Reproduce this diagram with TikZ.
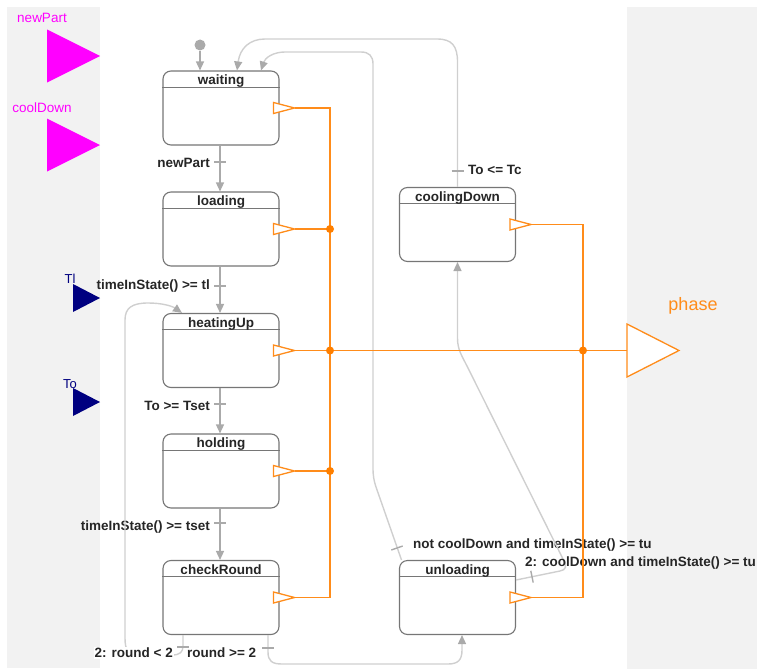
\documentclass[tikz,border=0pt]{standalone}
\usepackage{fontspec}
\setmainfont{Liberation Sans}
\usetikzlibrary{arrows.meta,calc}

\definecolor{panel}{HTML}{F2F2F2}
\definecolor{boxline}{HTML}{767676}
\definecolor{trans}{HTML}{AAAAAA}
\definecolor{loop}{HTML}{CFCFCF}
\definecolor{busor}{HTML}{FF8C1A}
\definecolor{dotor}{HTML}{FF7F00}
\definecolor{magin}{HTML}{FF00FF}
\definecolor{navyin}{HTML}{000080}

\tikzset{
  statebox/.style={draw=boxline, line width=1.1pt, rounded corners=8pt,
    minimum width=116pt, minimum height=74pt, inner sep=0pt, fill=white},
  headline/.style={draw=boxline, line width=1pt},
  title/.style={font=\fontsize{13.5}{15}\selectfont\bfseries, text=black!85, inner sep=0pt, anchor=base},
  tlabel/.style={font=\fontsize{13.5}{15}\selectfont\bfseries, text=black!85, inner sep=0pt},
  tline/.style={draw=trans, line width=1.4pt},
  lline/.style={draw=loop, line width=1.4pt},
  arr/.style={-{Triangle[length=9pt,width=8pt,color=trans]}},
  tickline/.style={draw=trans, line width=1.4pt},
  initdot/.style={circle, fill=trans, minimum size=11pt, inner sep=0pt},
  bus/.style={draw=busor, line width=1.4pt},
  portline/.style={draw=busor, line width=1.3pt, fill=white, line join=miter},
  busdot/.style={circle, fill=dotor, minimum size=8pt, inner sep=0pt},
  inlabel/.style={font=\fontsize{13.5}{15}\selectfont, inner sep=0pt},
}

% a state: rounded box, header rule and bold title
\newcommand\mkstate[3]{%
  \node[statebox] (#1) at (#2) {};
  \draw[headline] ([yshift=-17pt]#1.north west) -- ([yshift=-17pt]#1.north east);
  \node[title] (#1T) at ([yshift=-14.5pt]#1.north) {#3};
  % output port on the right edge, its tip named #1P
  \draw[portline] ([xshift=-6pt,yshift=5.5pt]#1.east)
     -- ([xshift=15pt]#1.east) coordinate (#1P)
     -- ([xshift=-6pt,yshift=-5.5pt]#1.east) -- cycle;
}

\begin{document}
\begin{tikzpicture}[x=1pt,y=-1pt]
\useasboundingbox (0,0) rectangle (757,669);

% side panels
\fill[panel] (7,7) rectangle (100,668);
\fill[panel] (627,7) rectangle (757,669);

% inputs
\node[inlabel, text=magin] (newPartL) at (42,18) {newPart};
\fill[magin] (47,29.5) -- (100,56) -- (47,82.5) -- cycle;
\node[inlabel, text=magin] (coolDownL) at (42,108) {coolDown};
\fill[magin] (47,118.5) -- (100,145) -- (47,171.5) -- cycle;
\fill[navyin] (73,284) -- (100,298) -- (73,312) -- cycle;
\node[inlabel, font=\fontsize{13}{14}\selectfont, text=navyin] (TlL) at (70,279) {Tl};
\fill[navyin] (73,388) -- (100,402) -- (73,416) -- cycle;
\node[inlabel, font=\fontsize{13}{14}\selectfont, text=navyin] (ToL) at (70,384) {To};

% output
\coordinate (phaseIn) at (627,350.5);
\draw[portline] (phaseIn) -- ++(0,-26.5) -- (679,350.5) -- (627,377) -- cycle;
\node[inlabel, font=\fontsize{18}{20}\selectfont, text=busor] (phaseL) at (693,306) {phase};

% states
\mkstate{waiting}{221,108}{waiting}
\mkstate{loading}{221,229}{loading}
\mkstate{heatingUp}{221,350.5}{heatingUp}
\mkstate{holding}{221,471}{holding}
\mkstate{checkRound}{221,597.5}{checkRound}
\mkstate{coolingDown}{457.5,224.5}{coolingDown}
\mkstate{unloading}{457.5,597.5}{unloading}

% initial transition
\node[initdot] (init) at (200,45) {};
\draw[tline, arr] (init) -- (init |- waiting.north);

% main chain
\coordinate (cx) at (220,0);
\draw[tline, arr] (waiting.south -| cx) -- (loading.north -| cx);
\draw[tickline] (214,162) -- (226,162);
\node[tlabel, anchor=east] (l1) at (210,163) {newPart};

\draw[tline, arr] (loading.south -| cx) -- (heatingUp.north -| cx);
\draw[tickline] (214,286) -- (226,286);
\node[tlabel, anchor=east] (l2) at (210,286) {timeInState() >= tl};

\draw[tline, arr] (heatingUp.south -| cx) -- (holding.north -| cx);
\draw[tickline] (214,404) -- (226,404);
\node[tlabel, anchor=east] (l3) at (210,406) {To >= Tset};

\draw[tline, arr] (holding.south -| cx) -- (checkRound.north -| cx);
\draw[tickline] (214,523) -- (226,523);
\node[tlabel, anchor=east] (l4) at (210,527) {timeInState() >= tset};

% checkRound back to heatingUp
\draw[lline, arr] ([xshift=-38pt]checkRound.south) -- (183,646)
  .. controls (183,652) and (180,655) .. (172,655) -- (140,655)
  .. controls (128,655) and (125,650) .. (125,638) -- (125,320)
  .. controls (125,308) and (132,303) .. (148,303)
  .. controls (162,303) and (172,306) .. ([xshift=-39pt]heatingUp.north);
\draw[tickline] (177,647) -- (189,647);
\node[tlabel, anchor=east, fill=white, inner sep=1pt] (l5) at (174,653) {2: round < 2};

% checkRound to unloading
\draw[lline, arr] ([xshift=47pt]checkRound.south) -- (268,652)
  .. controls (268,661) and (272,664) .. (282,664) -- (448,664)
  .. controls (458,664) and (462,660) .. (462,650) -- ([xshift=4.5pt]unloading.south);
\draw[tickline] (262,648) -- (274,648);
\node[tlabel, anchor=west] (l6) at (187,653) {round >= 2};

% coolingDown back to waiting
\draw[lline, arr] (coolingDown.north) -- (457.5,62)
  .. controls (457.5,46) and (452,39) .. (437,39) -- (265,39)
  .. controls (250,39) and (240,48) .. ([xshift=16pt]waiting.north);
\draw[tickline] (451.5,171) -- (463.5,171);
\node[tlabel, anchor=west] (l7) at (468,170) {To <= Tc};

% unloading back to waiting
\draw[lline, arr] ([xshift=-56pt]unloading.north) -- (376,487)
  .. controls (374,481) and (373,476) .. (373,468) -- (373,64)
  .. controls (373,56) and (369,52) .. (361,52) -- (285,52)
  .. controls (273,52) and (265,58) .. ([xshift=40pt]waiting.north);
\draw[tickline] (391.3,550) -- (402.7,546);
\node[tlabel, anchor=west] (l8) at (413,545) {not coolDown and timeInState() >= tu};

% unloading to coolingDown
\draw[lline, arr] ([yshift=17.5pt]unloading.east) -- (560,571)
  .. controls (566,570) and (567,566) .. (564,561) -- (468,368)
  .. controls (462,356) and (457.5,350) .. (457.5,338) -- (coolingDown.south);
\draw[tickline] (530.8,570.8) -- (533.2,582.6);
\node[tlabel, anchor=west] (l9) at (525,563) {2: coolDown and timeInState() >= tu};

% phase bus
\coordinate (busL) at (330,0);
\coordinate (busR) at (583,0);
\draw[bus] (waitingP) -- (waitingP -| busL) -- (checkRoundP -| busL) -- (checkRoundP);
\draw[bus] (loadingP) -- (loadingP -| busL);
\draw[bus] (holdingP) -- (holdingP -| busL);
\draw[bus] (heatingUpP) -- (phaseIn);
\draw[bus] (coolingDownP) -- (coolingDownP -| busR) -- (unloadingP -| busR) -- (unloadingP);
\node[busdot] (d1) at (loadingP -| busL) {};
\node[busdot] (d2) at (heatingUpP -| busL) {};
\node[busdot] (d3) at (holdingP -| busL) {};
\node[busdot] (d4) at (heatingUpP -| busR) {};
\end{tikzpicture}
\end{document}
